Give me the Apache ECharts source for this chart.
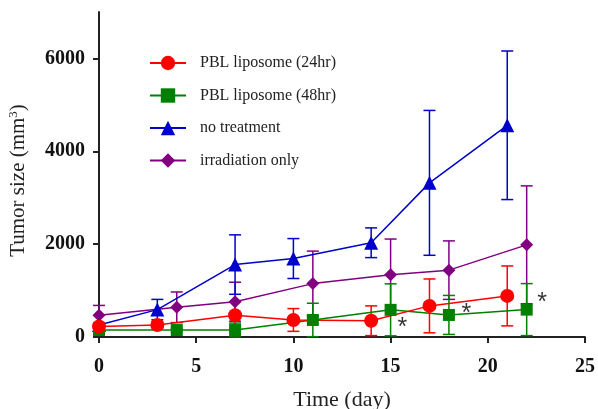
<!DOCTYPE html>
<html>
<head>
<meta charset="utf-8">
<script src="https://cdn.jsdelivr.net/npm/echarts@6/dist/echarts.min.js"></script>
<style>
html, body { margin: 0; padding: 0; background: #fff; }
#main { width: 598px; height: 409px; }
</style>
</head>
<body>
<div id="main"></div>
<script>
// values (mean, +/- error)
const redDays = [0, 3, 7, 10, 14, 17, 21]
const redMean = [225, 260, 470, 367, 350, 670, 885]
const redErr = [60, 60, 290, 245, 320, 580, 645]

const greenDays = [0, 4, 7, 11, 15, 18, 22]
const greenMean = [150, 150, 150, 367, 585, 475, 590]
const greenErr = [40, 40, 150, 360, 560, 420, 560]

const blueDays = [0, 3, 7, 10, 14, 17, 21]
const blueMean = [260, 590, 1560, 1690, 2030, 3320, 4560]
const blueErr = [40, 220, 640, 430, 320, 1560, 1600]

const purpleDays = [0, 4, 7, 11, 15, 18, 22]
const purpleMean = [470, 640, 760, 1150, 1340, 1440, 1985]
const purpleErr = [210, 330, 420, 700, 770, 630, 1270]

const starPoints = [[15.6, 330], [18.9, 625], [22.8, 860]]
const yTicks = [0, 2000, 4000, 6000]

const names = ['PBL liposome (24hr)', 'PBL liposome (48hr)', 'no treatment', 'irradiation only']
const serif = '"Liberation Serif", "Times New Roman", serif'

function pairs(days, vals) {
    return days.map((d, i) => [d, vals[i]])
}

function errorSeries(days, mean, err, color) {
    return {
        type: 'custom',
        data: days.map((d, i) => [d, Math.max(0, mean[i] - err[i]), mean[i] + err[i]]),
        encode: { x: 0, y: [1, 2] },
        z: 1,
        silent: true,
        renderItem: function (params, api) {
            const top = api.coord([api.value(0), api.value(2)])
            const bot = api.coord([api.value(0), api.value(1)])
            const w = 6
            const style = { stroke: color, lineWidth: 1.5, fill: null }
            return {
                type: 'group',
                children: [
                    { type: 'line', shape: { x1: top[0], y1: top[1], x2: bot[0], y2: bot[1] }, style: style },
                    { type: 'line', shape: { x1: top[0] - w, y1: top[1], x2: top[0] + w, y2: top[1] }, style: style },
                    { type: 'line', shape: { x1: bot[0] - w, y1: bot[1], x2: bot[0] + w, y2: bot[1] }, style: style }
                ]
            }
        }
    }
}

function lineSeries(name, days, mean, color, symbol, size) {
    return {
        type: 'line',
        name: name,
        data: pairs(days, mean),
        symbol: symbol,
        symbolSize: size,
        showAllSymbol: true,
        z: 3,
        itemStyle: { color: color },
        lineStyle: { color: color, width: 1.5 }
    }
}

const box = document.getElementById('main')
const myChart = echarts.init(box)

let option = {
    animation: false,
    backgroundColor: '#fff',
    grid: { left: 99, right: 13, top: 12, bottom: 72, outerBoundsMode: 'none' },
    legend: {
        data: names,
        orient: 'vertical',
        left: 144,
        top: 50,
        itemWidth: 36,
        itemHeight: 18,
        itemGap: 16.5,
        textStyle: { fontFamily: serif, fontSize: 16, color: '#222', padding: [0, 0, 0, 9] }
    },
    xAxis: {
        type: 'value',
        min: 0,
        max: 25,
        interval: 5,
        name: 'Time (day)',
        nameLocation: 'middle',
        nameGap: 52,
        nameTextStyle: { fontFamily: serif, fontSize: 22, color: '#222' },
        splitLine: { show: false },
        axisLine: { onZero: false, lineStyle: { color: '#222', width: 2 } },
        axisTick: { length: 6, lineStyle: { color: '#222', width: 2 } },
        axisLabel: { margin: 20, fontFamily: serif, fontWeight: 'bold', fontSize: 20, color: '#111' }
    },
    yAxis: {
        type: 'value',
        min: 0,
        max: 7000,
        name: '{a|Tumor size (mm}{s|3}{a|)}',
        nameLocation: 'middle',
        nameGap: 70,
        nameTextStyle: {
            padding: [0, 0, 0, -12],
            rich: {
                a: { fontFamily: serif, fontSize: 21, color: '#222' },
                s: { fontFamily: serif, fontSize: 13, color: '#222', verticalAlign: 'top', padding: [0, 0, 9, 0] }
            }
        },
        splitLine: { show: false },
        axisLine: { show: true, lineStyle: { color: '#222', width: 2 } },
        axisTick: { show: true, length: 6, customValues: yTicks, lineStyle: { color: '#222', width: 2 } },
        axisLabel: {
            margin: 14,
            customValues: yTicks,
            formatter: function (v) { return String(v) },
            fontFamily: serif,
            fontWeight: 'bold',
            fontSize: 20,
            color: '#111'
        }
    },
    series: [
        errorSeries(purpleDays, purpleMean, purpleErr, '#800080'),
        errorSeries(blueDays, blueMean, blueErr, '#0000cc'),
        errorSeries(greenDays, greenMean, greenErr, '#008000'),
        errorSeries(redDays, redMean, redErr, '#ff0000'),
        lineSeries(names[3], purpleDays, purpleMean, '#800080', 'diamond', 13),
        lineSeries(names[2], blueDays, blueMean, '#0000cc', 'triangle', 14),
        lineSeries(names[1], greenDays, greenMean, '#008000', 'rect', 12),
        lineSeries(names[0], redDays, redMean, '#ff0000', 'circle', 14),
        {
            type: 'scatter',
            data: starPoints,
            symbolSize: 1,
            itemStyle: { color: 'rgba(0,0,0,0)' },
            z: 4,
            silent: true,
            label: {
                show: true,
                position: 'inside',
                offset: [0, 6],
                formatter: '*',
                fontFamily: '"Liberation Sans", sans-serif',
                fontSize: 25,
                color: '#000'
            }
        }
    ]
}
myChart.setOption(option)
window.addEventListener('resize', function () {
    myChart.resize()
})
</script>
</body>
</html>
